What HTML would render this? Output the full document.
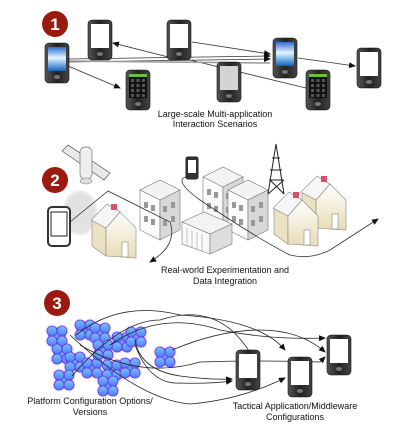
<!DOCTYPE html>
<html><head><meta charset="utf-8"><style>
html,body{margin:0;padding:0;background:#fff;width:415px;height:428px;overflow:hidden}
svg{display:block}
text{font-family:"Liberation Sans",sans-serif;font-size:9px;fill:#111}
</style></head><body>
<svg width="415" height="428" viewBox="0 0 415 428" xmlns="http://www.w3.org/2000/svg">
<defs>
<linearGradient id="body" x1="0" x2="1"><stop offset="0" stop-color="#555"/><stop offset=".5" stop-color="#222"/><stop offset="1" stop-color="#444"/></linearGradient>
<linearGradient id="sky" x1="0" y1="0" x2="0" y2="1"><stop offset="0" stop-color="#2a6fd0"/><stop offset=".45" stop-color="#e8f4ff"/><stop offset=".7" stop-color="#7ab6ea"/><stop offset="1" stop-color="#1b5fb8"/></linearGradient>
<linearGradient id="beige" x1="0" y1="0" x2="0" y2="1"><stop offset="0" stop-color="#fff"/><stop offset="1" stop-color="#e8dcb5"/></linearGradient>
<linearGradient id="blob" x1="0" y1="0" x2="0" y2="1"><stop offset="0" stop-color="#7ec0ff"/><stop offset="1" stop-color="#4a7ff5"/></linearGradient>
<filter id="glow"><feGaussianBlur stdDeviation="1.2"/></filter>
<marker id="ar" markerWidth="7" markerHeight="6" refX="6" refY="3" orient="auto" markerUnits="userSpaceOnUse"><path d="M0,0L7,3L0,6z" fill="#111"/></marker>
<g id="ph">
<rect x="0" y="0" width="24" height="40" rx="4" fill="url(#body)" stroke="#111" stroke-width=".6"/>
<rect x="3" y="4" width="18" height="24" fill="#fff"/>
<ellipse cx="12" cy="34" rx="3" ry="2" fill="#777"/>
</g>
<g id="phc">
<use href="#ph"/><rect x="3" y="4" width="18" height="24" fill="url(#sky)"/>
</g>
<g id="phk">
<use href="#ph"/><rect x="3" y="4" width="18" height="24" fill="#111"/><rect x="3" y="4" width="18" height="3" fill="#6cbf3a"/>
<g fill="#555"><rect x="5" y="9" width="3" height="3"/><rect x="10.5" y="9" width="3" height="3"/><rect x="16" y="9" width="3" height="3"/><rect x="5" y="14" width="3" height="3"/><rect x="10.5" y="14" width="3" height="3"/><rect x="16" y="14" width="3" height="3"/><rect x="5" y="19" width="3" height="3"/><rect x="10.5" y="19" width="3" height="3"/><rect x="16" y="19" width="3" height="3"/><rect x="5" y="24" width="3" height="3"/><rect x="10.5" y="24" width="3" height="3"/><rect x="16" y="24" width="3" height="3"/></g>
</g>
<g id="house">
<polygon points="-14,16 -28,8 -28,34 -14,44" fill="#ebe2c4" stroke="#888" stroke-width=".6"/>
<polygon points="-14,16 0,0 16,16 16,46 -14,44" fill="url(#beige)" stroke="#888" stroke-width=".6"/>
<polygon points="0,0 -14,16 -29,8 -13,-8" fill="#f6f6f6" stroke="#888" stroke-width=".6"/>
<rect x="2" y="30" width="6" height="15" fill="#fff" stroke="#888" stroke-width=".6"/>
<rect x="-9" y="-8" width="6" height="6" fill="#d9506a"/>
</g>
<g id="bld">
<polygon points="0,10 20,0 40,10 20,20" fill="#f3f3f3" stroke="#777" stroke-width=".6"/>
<polygon points="0,10 20,20 20,60 0,50" fill="#fbfbfb" stroke="#777" stroke-width=".6"/>
<polygon points="20,20 40,10 40,50 20,60" fill="#d8d8d8" stroke="#777" stroke-width=".6"/>
<g fill="#999"><rect x="23" y="26" width="4" height="6"/><rect x="31" y="22" width="4" height="6"/><rect x="23" y="40" width="4" height="6"/><rect x="31" y="36" width="4" height="6"/><rect x="4" y="22" width="4" height="6"/><rect x="11" y="25" width="4" height="6"/><rect x="4" y="36" width="4" height="6"/><rect x="11" y="39" width="4" height="6"/></g>
</g>
<g id="bl">
<circle cx="0" cy="0" r="8"/><circle cx="-5" cy="-5" r="5"/><circle cx="5" cy="-5" r="5"/><circle cx="-5" cy="5" r="5"/><circle cx="5" cy="5" r="5"/>
</g>
</defs>

<!-- Section 1 -->
<g stroke="#333" stroke-width=".8" fill="none" marker-end="url(#ar)">
<line x1="68" y1="59" x2="270" y2="56"/>
<line x1="68" y1="62" x2="270" y2="59"/>
<line x1="68" y1="66" x2="120" y2="88"/>
<line x1="192" y1="42" x2="270" y2="54"/>
<line x1="180" y1="60" x2="113" y2="43"/>
<line x1="298" y1="58" x2="355" y2="66"/>
</g>
<line x1="190" y1="60" x2="306" y2="88" stroke="#333" stroke-width=".8"/>
<line x1="68" y1="61" x2="270" y2="63" stroke="#999" stroke-width="1.5"/>
<use href="#phc" x="45" y="43"/>
<use href="#ph" x="88" y="20"/>
<use href="#ph" x="167" y="20"/>
<use href="#phc" x="273" y="38"/>
<use href="#ph" x="357" y="48"/>
<use href="#phk" x="126" y="70"/>
<use href="#ph" x="217" y="62"/><rect x="220" y="66" width="18" height="24" fill="#d4d4d4"/>
<use href="#phk" x="306" y="70"/>
<circle cx="55" cy="24" r="13" fill="#9b1a10"/>
<text x="55" y="30" text-anchor="middle" style="font-size:17px;font-weight:bold;fill:#fff">1</text>
<text x="215" y="117" text-anchor="middle">Large-scale Multi-application</text>
<text x="215" y="127" text-anchor="middle">Interaction Scenarios</text>

<!-- Section 2 -->
<g transform="translate(60,143)">
<polygon points="2,8 8,2 50,30 44,37" fill="#e8e8e8" stroke="#555" stroke-width=".7"/>
<rect x="20" y="4" width="12" height="32" rx="5" fill="#eee" stroke="#777" stroke-width=".7"/>
<ellipse cx="26" cy="38" rx="6" ry="3" fill="#ddd" stroke="#888" stroke-width=".6"/>
</g>
<circle cx="55" cy="180" r="13" fill="#9b1a10"/>
<text x="55" y="186" text-anchor="middle" style="font-size:17px;font-weight:bold;fill:#fff">2</text>
<ellipse cx="80" cy="213" rx="17" ry="22" fill="#ccc" opacity=".55" filter="url(#glow)"/>
<rect x="48" y="207" width="22" height="39" rx="4" fill="#fff" stroke="#333" stroke-width="2"/>
<rect x="51" y="212" width="16" height="24" fill="#fff" stroke="#222" stroke-width="1"/>
<use href="#bld" x="140" y="180"/>
<use href="#bld" x="203" y="167"/>
<use href="#bld" x="228" y="180"/>
<g transform="translate(182,212)">
<polygon points="0,10 22,0 50,12 28,22" fill="#f3f3f3" stroke="#777" stroke-width=".6"/>
<polygon points="0,10 28,22 28,42 0,32" fill="#fafafa" stroke="#777" stroke-width=".6"/>
<polygon points="28,22 50,12 50,32 28,42" fill="#ddd" stroke="#777" stroke-width=".6"/>
<g stroke="#999" stroke-width=".6"><line x1="5" y1="16" x2="5" y2="34"/><line x1="10" y1="18" x2="10" y2="36"/><line x1="15" y1="20" x2="15" y2="38"/><line x1="20" y1="22" x2="20" y2="40"/></g>
</g>
<g stroke="#222" stroke-width="1" fill="none">
<path d="M276,144 L268,194 M276,144 L284,194 M270,170 L282,170 M269,180 L283,180 M272,158 L280,158 M268,194 L284,180 M284,194 L270,180"/>
</g>
<use href="#house" x="120" y="212"/>
<use href="#house" x="330" y="184"/>
<use href="#house" x="302" y="200"/>
<rect x="186" y="157" width="12" height="22" rx="2" fill="#333" stroke="#222" stroke-width="1"/>
<rect x="188" y="160" width="8" height="13" fill="#fff"/>
<g stroke="#333" stroke-width=".8" fill="none">
<path d="M70,222 L108,191 L170,222 Q178,245 150,262" marker-end="url(#ar)"/>
<path d="M190,176 Q170,178 200,200 Q260,240 290,255 Q310,260 330,250 L378,219" marker-end="url(#ar)"/>
</g>
<text x="225" y="273" text-anchor="middle">Real-world Experimentation and</text>
<text x="225" y="284" text-anchor="middle">Data Integration</text>

<!-- Section 3 -->
<circle cx="57" cy="303" r="13" fill="#9b1a10"/>
<text x="57" y="309" text-anchor="middle" style="font-size:17px;font-weight:bold;fill:#fff">3</text>
<g fill="#7a3cff" opacity=".6" filter="url(#glow)">
<use href="#bl" x="57" y="336"/><use href="#bl" x="85" y="330"/><use href="#bl" x="100" y="333"/><use href="#bl" x="62" y="354"/><use href="#bl" x="75" y="362"/><use href="#bl" x="92" y="368"/><use href="#bl" x="103" y="350"/><use href="#bl" x="122" y="342"/><use href="#bl" x="136" y="337"/><use href="#bl" x="112" y="370"/><use href="#bl" x="108" y="386"/><use href="#bl" x="64" y="380"/><use href="#bl" x="130" y="368"/><use href="#bl" x="165" y="357"/>
</g>
<g fill="url(#blob)" stroke="#6a35f0" stroke-width=".8">
<use href="#bl" x="57" y="336"/><use href="#bl" x="85" y="330"/><use href="#bl" x="100" y="333"/><use href="#bl" x="62" y="354"/><use href="#bl" x="75" y="362"/><use href="#bl" x="92" y="368"/><use href="#bl" x="103" y="350"/><use href="#bl" x="122" y="342"/><use href="#bl" x="136" y="337"/><use href="#bl" x="112" y="370"/><use href="#bl" x="108" y="386"/><use href="#bl" x="64" y="380"/><use href="#bl" x="130" y="368"/><use href="#bl" x="165" y="357"/>
</g>
<g stroke="#222" stroke-width=".8" fill="none" marker-end="url(#ar)">
<path d="M72,376 Q120,320 160,320 Q220,300 252,356"/>
<path d="M76,335 Q120,300 180,315 Q260,320 285,350"/>
<path d="M110,345 Q160,310 220,330 Q270,340 325,338"/>
<path d="M172,350 Q220,330 260,330 Q300,330 325,352"/>
<path d="M135,340 Q140,370 180,376 Q210,380 232,379"/>
<path d="M135,345 Q150,385 180,383 Q210,384 232,381"/>
<path d="M70,335 Q140,400 190,404 Q240,400 285,378"/>
<path d="M80,345 Q140,380 200,362 Q260,360 320,362 L325,357"/>
</g>
<use href="#ph" x="236" y="350"/>
<use href="#ph" x="288" y="357"/>
<use href="#ph" x="327" y="335"/>
<text x="90" y="404" text-anchor="middle">Platform Configuration Options/</text>
<text x="90" y="415" text-anchor="middle">Versions</text>
<text x="295" y="409" text-anchor="middle">Tactical Application/Middleware</text>
<text x="295" y="420" text-anchor="middle">Configurations</text>
</svg>
</body></html>
